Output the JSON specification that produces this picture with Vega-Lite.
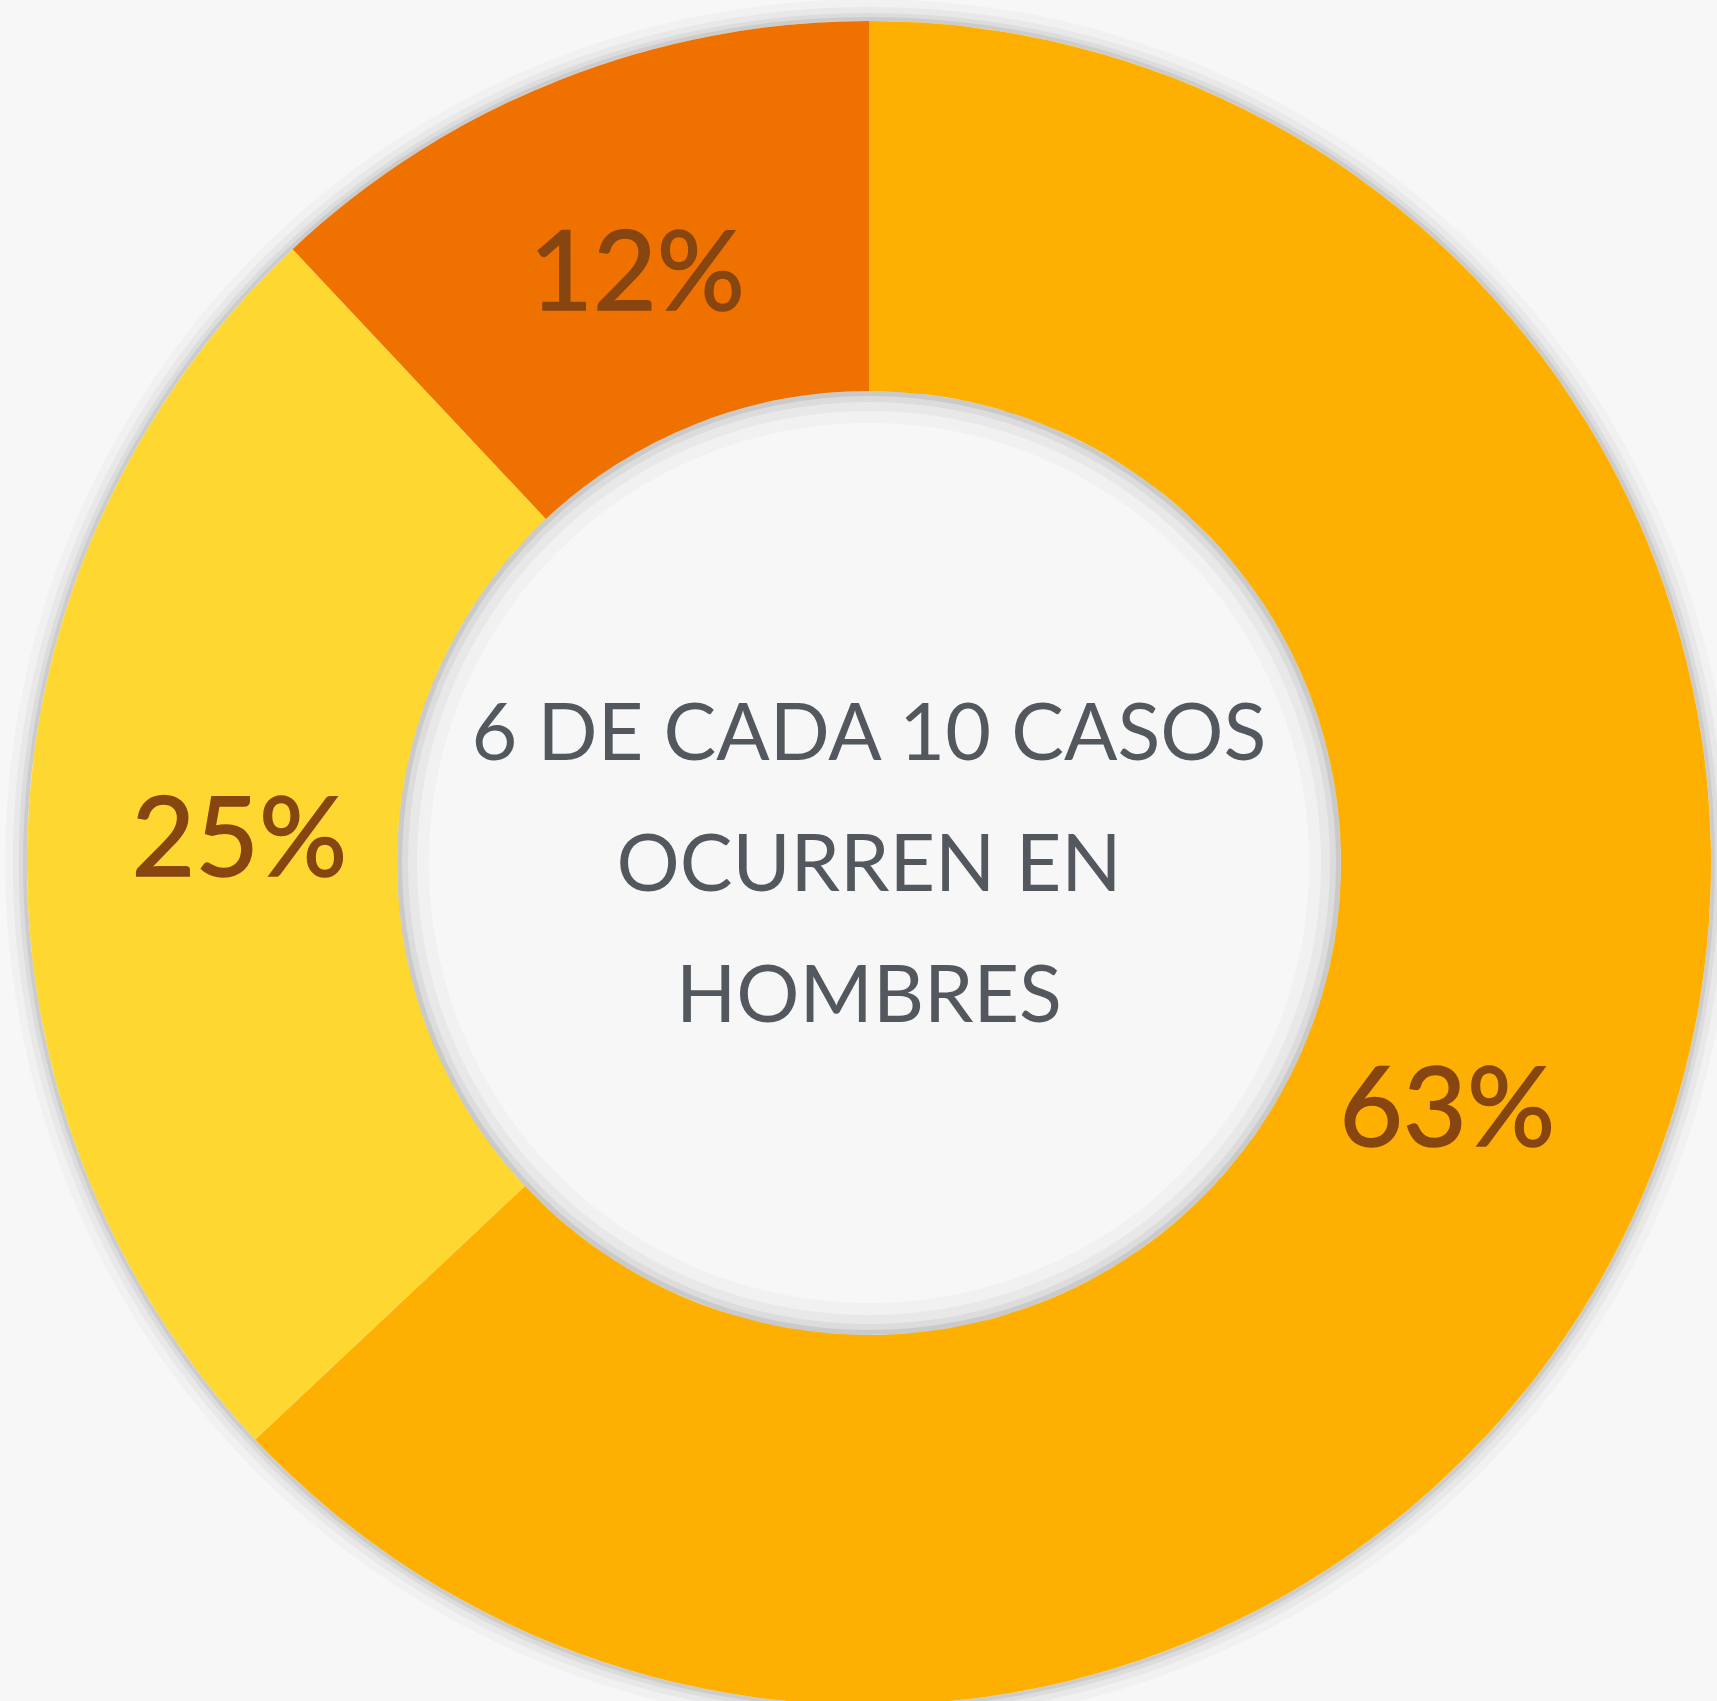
{
  "$schema": "https://vega.github.io/schema/vega-lite/v6.json",
  "width": 1717,
  "height": 1701,
  "autosize": {"type": "fit", "contains": "padding"},
  "padding": {"left": 21, "top": 25, "right": 0, "bottom": 0},
  "background": "#f7f7f7",
  "config": {"view": {"stroke": null}},
  "datasets": {
    "segmentos": [
      {"segmento": "A", "valor": 63, "etiqueta": "63%"},
      {"segmento": "B", "valor": 25, "etiqueta": "25%"},
      {"segmento": "C", "valor": 12, "etiqueta": "12%"}
    ],
    "centro": [
      {"texto": "6 DE CADA 10 CASOS\nOCURREN EN\nHOMBRES"}
    ]
  },
  "layer": [
    {"data": {"name": "centro"}, "mark": {"type": "arc", "theta": 0, "theta2": 6.2832, "innerRadius": 842, "outerRadius": 864, "color": "#000", "opacity": 0.025}, "encoding": {}},
    {"data": {"name": "centro"}, "mark": {"type": "arc", "theta": 0, "theta2": 6.2832, "innerRadius": 842, "outerRadius": 856, "color": "#000", "opacity": 0.035}, "encoding": {}},
    {"data": {"name": "centro"}, "mark": {"type": "arc", "theta": 0, "theta2": 6.2832, "innerRadius": 842, "outerRadius": 850, "color": "#000", "opacity": 0.05}, "encoding": {}},
    {"data": {"name": "centro"}, "mark": {"type": "arc", "theta": 0, "theta2": 6.2832, "innerRadius": 842, "outerRadius": 846, "color": "#000", "opacity": 0.07}, "encoding": {}},
    {
      "data": {"name": "segmentos"},
      "mark": {"type": "arc", "innerRadius": 472, "outerRadius": 842},
      "encoding": {
        "theta": {"field": "valor", "type": "quantitative", "stack": true},
        "order": {"field": "valor", "sort": "descending"},
        "color": {
          "field": "segmento",
          "type": "nominal",
          "scale": {"domain": ["A", "B", "C"], "range": ["#fdb002", "#fed731", "#ef7200"]},
          "legend": null
        }
      }
    },
    {"data": {"name": "centro"}, "mark": {"type": "arc", "theta": 0, "theta2": 6.2832, "innerRadius": 440, "outerRadius": 472, "color": "#000", "opacity": 0.025}, "encoding": {}},
    {"data": {"name": "centro"}, "mark": {"type": "arc", "theta": 0, "theta2": 6.2832, "innerRadius": 452, "outerRadius": 472, "color": "#000", "opacity": 0.035}, "encoding": {}},
    {"data": {"name": "centro"}, "mark": {"type": "arc", "theta": 0, "theta2": 6.2832, "innerRadius": 461, "outerRadius": 472, "color": "#000", "opacity": 0.05}, "encoding": {}},
    {"data": {"name": "centro"}, "mark": {"type": "arc", "theta": 0, "theta2": 6.2832, "innerRadius": 467, "outerRadius": 472, "color": "#000", "opacity": 0.08}, "encoding": {}},
    {
      "data": {"name": "segmentos"},
      "mark": {"type": "text", "radius": 630, "font": "Lato", "fontSize": 110, "align": "center", "baseline": "middle", "color": "#87450f", "stroke": "#87450f", "strokeWidth": 1.5},
      "encoding": {
        "theta": {"field": "valor", "type": "quantitative", "stack": true},
        "order": {"field": "valor", "sort": "descending"},
        "text": {"field": "etiqueta"}
      }
    },
    {
      "data": {"name": "centro"},
      "mark": {"type": "text", "font": "Lato", "fontSize": 79, "letterSpacing": 3, "align": "center", "baseline": "middle", "lineBreak": "\n", "lineHeight": 131, "dy": -127, "color": "#53585e"},
      "encoding": {"text": {"field": "texto"}}
    }
  ]
}
